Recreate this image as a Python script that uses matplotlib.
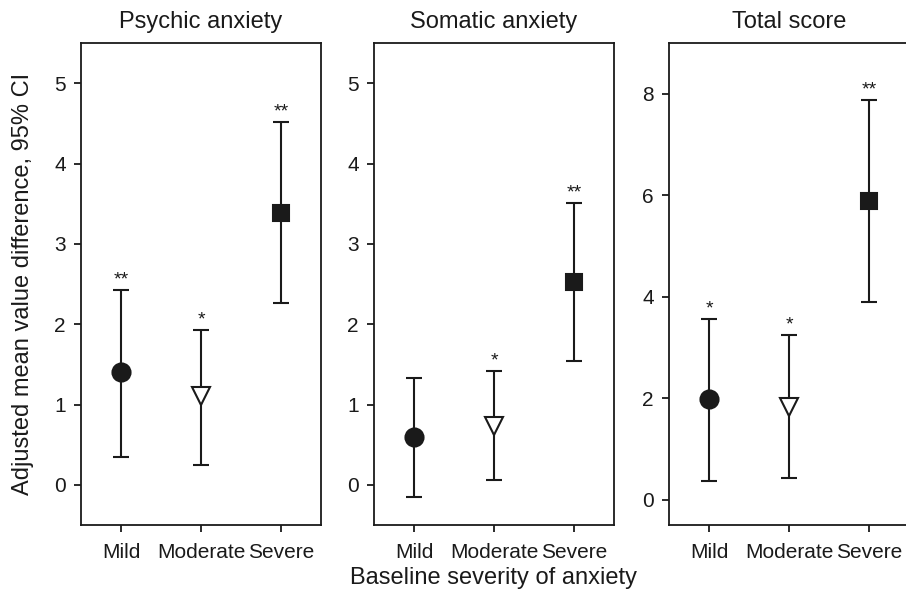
import numpy as np
import matplotlib
matplotlib.use("Agg")
import matplotlib.pyplot as plt

plt.rcParams['font.family'] = ['Liberation Sans', 'DejaVu Sans']

categories = ["Mild", "Moderate", "Severe"]
titles = ["Psychic anxiety", "Somatic anxiety", "Total score"]

# mean, lower CI, upper CI for each panel
means = [[1.40, 1.10, 3.39],
         [0.59, 0.73, 2.53],
         [1.98, 1.82, 5.88]]
lower = [[0.35, 0.25, 2.26],
         [-0.15, 0.06, 1.54],
         [0.36, 0.43, 3.89]]
upper = [[2.43, 1.93, 4.52],
         [1.33, 1.42, 3.51],
         [3.57, 3.24, 7.88]]
stars = [["**", "*", "**"],
         ["", "*", "**"],
         ["*", "*", "**"]]

ylims = [(-0.5, 5.5), (-0.5, 5.5), (-0.5, 9.0)]
yticks = [[0, 1, 2, 3, 4, 5], [0, 1, 2, 3, 4, 5], [0, 2, 4, 6, 8]]
markers = ["o", "v", "s"]
mfaces = ["#1a1a1a", "white", "#1a1a1a"]
msizes = [13, 13, 12]

W, H = 906, 594
fig = plt.figure(figsize=(W / 100, H / 100), dpi=100)
lefts = [81, 374, 669]
top, bottom, width = 43, 525, 240

x = np.arange(1, 4)
for p in range(3):
    ax = fig.add_axes([lefts[p] / W, 1 - bottom / H, width / W, (bottom - top) / H])
    m = np.array(means[p])
    lo = m - np.array(lower[p])
    hi = np.array(upper[p]) - m
    ax.errorbar(x, m, yerr=[lo, hi], fmt="none", ecolor="#1a1a1a",
                elinewidth=1.5, capsize=6, capthick=1.5, zorder=2)
    for i in range(3):
        ax.plot(x[i], m[i], marker=markers[i], markersize=msizes[i],
                markerfacecolor=mfaces[i], markeredgecolor="#1a1a1a",
                markeredgewidth=1.5, linestyle="none", zorder=3)
        if stars[p][i]:
            ax.annotate(stars[p][i], (x[i], upper[p][i]), xytext=(0, 1),
                        textcoords="offset points", ha="center", va="bottom",
                        fontsize=14, color="#1a1a1a")
    ax.set_xlim(0.5, 3.5)
    ax.set_ylim(*ylims[p])
    ax.set_xticks(x)
    ax.set_xticklabels(categories)
    ax.set_yticks(yticks[p])
    ax.tick_params(direction="out", length=5, width=1.3, labelsize=15,
                   colors="#1a1a1a", pad=6)
    ax.tick_params(axis="x", pad=8)
    for s in ax.spines.values():
        s.set_linewidth(1.3)
        s.set_color("#1a1a1a")
    ax.set_title(titles[p], fontsize=17, pad=11, color="#1a1a1a")
    if p == 0:
        ax.set_ylabel("Adjusted mean value difference, 95% CI", fontsize=17,
                      color="#1a1a1a")
        ax.yaxis.set_label_coords(-47 / width, 0.5)

fig.text(494 / W, 1 - 578 / H, "Baseline severity of anxiety", ha="center",
         va="center", fontsize=17, color="#1a1a1a")

fig.savefig("out.png", dpi=100)
